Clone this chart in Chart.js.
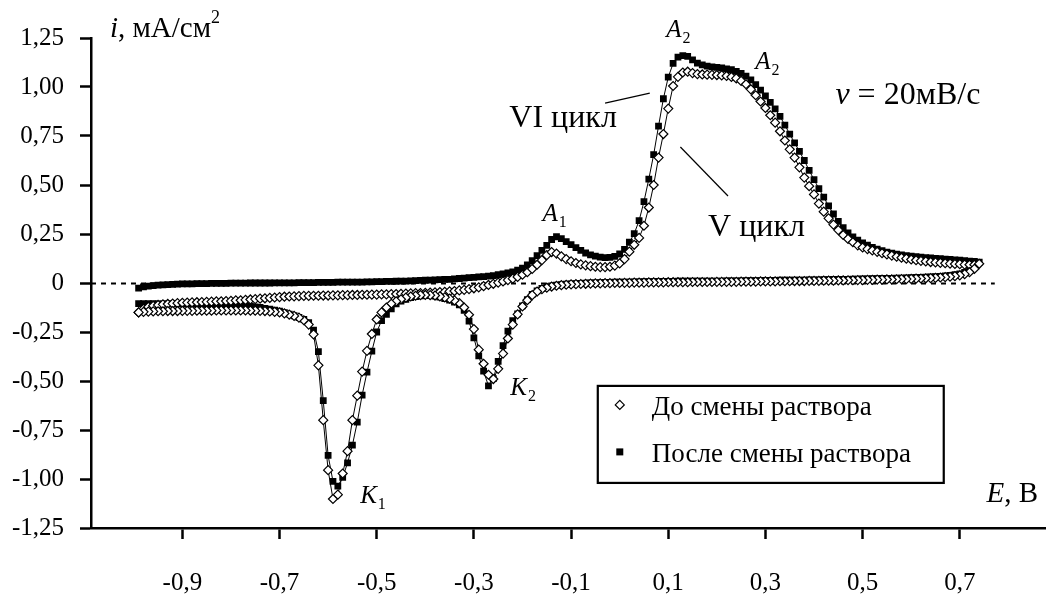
<!DOCTYPE html>
<html lang="ru">
<head>
<meta charset="utf-8">
<title>Циклические вольтамперограммы</title>
<script src="https://cdn.jsdelivr.net/npm/chart.js@4.4.1/dist/chart.umd.min.js"></script>
<style>
  html, body { margin: 0; padding: 0; background: #fff; }
  #wrap { width: 1051px; height: 594px; }
</style>
</head>
<body>
<div id="wrap"><canvas id="cv" width="1051" height="594"></canvas></div>
<script>
// Potential sweep, V (anodic run, then cathodic run back to the start)
const scanForward = [
  -0.99,-0.98,-0.97,-0.96,-0.95,-0.94,-0.93,-0.92,-0.91,-0.90,
  -0.89,-0.88,-0.87,-0.86,-0.85,-0.84,-0.83,-0.82,-0.81,-0.80,
  -0.79,-0.78,-0.77,-0.76,-0.75,-0.74,-0.73,-0.72,-0.71,-0.70,
  -0.69,-0.68,-0.67,-0.66,-0.65,-0.64,-0.63,-0.62,-0.61,-0.60,
  -0.59,-0.58,-0.57,-0.56,-0.55,-0.54,-0.53,-0.52,-0.51,-0.50,
  -0.49,-0.48,-0.47,-0.46,-0.45,-0.44,-0.43,-0.42,-0.41,-0.40,
  -0.39,-0.38,-0.37,-0.36,-0.35,-0.34,-0.33,-0.32,-0.31,-0.30,
  -0.29,-0.28,-0.27,-0.26,-0.25,-0.24,-0.23,-0.22,-0.21,-0.20,
  -0.19,-0.18,-0.17,-0.16,-0.15,-0.14,-0.13,-0.12,-0.11,-0.10,
  -0.09,-0.08,-0.07,-0.06,-0.05,-0.04,-0.03,-0.02,-0.01,0.00,
  0.01,0.02,0.03,0.04,0.05,0.06,0.07,0.08,0.09,0.10,
  0.11,0.12,0.13,0.14,0.15,0.16,0.17,0.18,0.19,0.20,
  0.21,0.22,0.23,0.24,0.25,0.26,0.27,0.28,0.29,0.30,
  0.31,0.32,0.33,0.34,0.35,0.36,0.37,0.38,0.39,0.40,
  0.41,0.42,0.43,0.44,0.45,0.46,0.47,0.48,0.49,0.50,
  0.51,0.52,0.53,0.54,0.55,0.56,0.57,0.58,0.59,0.60,
  0.61,0.62,0.63,0.64,0.65,0.66,0.67,0.68,0.69,0.70,
  0.71,0.72,0.73,0.74
];
const scanReverse = [
  0.73,0.72,0.71,0.70,0.69,0.68,0.67,0.66,0.65,0.64,
  0.63,0.62,0.61,0.60,0.59,0.58,0.57,0.56,0.55,0.54,
  0.53,0.52,0.51,0.50,0.49,0.48,0.47,0.46,0.45,0.44,
  0.43,0.42,0.41,0.40,0.39,0.38,0.37,0.36,0.35,0.34,
  0.33,0.32,0.31,0.30,0.29,0.28,0.27,0.26,0.25,0.24,
  0.23,0.22,0.21,0.20,0.19,0.18,0.17,0.16,0.15,0.14,
  0.13,0.12,0.11,0.10,0.09,0.08,0.07,0.06,0.05,0.04,
  0.03,0.02,0.01,0.00,-0.01,-0.02,-0.03,-0.04,-0.05,-0.06,
  -0.07,-0.08,-0.09,-0.10,-0.11,-0.12,-0.13,-0.14,-0.15,-0.16,
  -0.17,-0.18,-0.19,-0.20,-0.21,-0.22,-0.23,-0.24,-0.25,-0.26,
  -0.27,-0.28,-0.29,-0.30,-0.31,-0.32,-0.33,-0.34,-0.35,-0.36,
  -0.37,-0.38,-0.39,-0.40,-0.41,-0.42,-0.43,-0.44,-0.45,-0.46,
  -0.47,-0.48,-0.49,-0.50,-0.51,-0.52,-0.53,-0.54,-0.55,-0.56,
  -0.57,-0.58,-0.59,-0.60,-0.61,-0.62,-0.63,-0.64,-0.65,-0.66,
  -0.67,-0.68,-0.69,-0.70,-0.71,-0.72,-0.73,-0.74,-0.75,-0.76,
  -0.77,-0.78,-0.79,-0.80,-0.81,-0.82,-0.83,-0.84,-0.85,-0.86,
  -0.87,-0.88,-0.89,-0.90,-0.91,-0.92,-0.93,-0.94,-0.95,-0.96,
  -0.97,-0.98,-0.99
];

// Current density, mA/cm², before the electrolyte was replaced (cycle V)
const beforeForward = [
  -0.150,-0.132,-0.122,-0.116,-0.112,-0.109,-0.107,-0.105,-0.103,-0.101,
  -0.100,-0.099,-0.098,-0.097,-0.096,-0.095,-0.094,-0.093,-0.092,-0.091,
  -0.089,-0.088,-0.086,-0.084,-0.082,-0.080,-0.078,-0.076,-0.074,-0.072,
  -0.070,-0.069,-0.068,-0.067,-0.066,-0.066,-0.065,-0.065,-0.064,-0.064,
  -0.063,-0.063,-0.062,-0.062,-0.061,-0.061,-0.060,-0.060,-0.059,-0.059,
  -0.058,-0.058,-0.057,-0.056,-0.055,-0.054,-0.053,-0.052,-0.051,-0.050,
  -0.049,-0.048,-0.046,-0.045,-0.043,-0.041,-0.038,-0.035,-0.031,-0.027,
  -0.022,-0.016,-0.010,-0.004,0.002,0.008,0.015,0.022,0.031,0.042,
  0.055,0.072,0.093,0.117,0.142,0.158,0.150,0.136,0.122,0.111,
  0.102,0.095,0.090,0.086,0.083,0.081,0.081,0.083,0.089,0.100,
  0.122,0.160,0.195,0.230,0.292,0.385,0.500,0.640,0.760,0.890,
  1.005,1.052,1.074,1.078,1.071,1.066,1.064,1.063,1.062,1.061,
  1.059,1.056,1.051,1.044,1.031,1.014,0.988,0.958,0.926,0.893,
  0.856,0.818,0.774,0.727,0.682,0.640,0.590,0.538,0.494,0.452,
  0.405,0.364,0.330,0.298,0.270,0.245,0.225,0.208,0.192,0.181,
  0.173,0.166,0.159,0.152,0.146,0.140,0.134,0.129,0.124,0.120,
  0.116,0.113,0.110,0.107,0.105,0.103,0.101,0.099,0.097,0.096,
  0.094,0.093,0.093,0.098
];
const beforeReverse = [
  0.072,0.055,0.045,0.039,0.035,0.032,0.030,0.028,0.026,0.025,
  0.024,0.023,0.022,0.021,0.020,0.020,0.019,0.018,0.018,0.017,
  0.017,0.016,0.016,0.015,0.015,0.014,0.014,0.013,0.013,0.012,
  0.012,0.012,0.011,0.011,0.011,0.010,0.010,0.010,0.009,0.009,
  0.009,0.008,0.008,0.008,0.008,0.007,0.007,0.007,0.007,0.006,
  0.006,0.006,0.006,0.006,0.005,0.005,0.005,0.005,0.005,0.004,
  0.004,0.004,0.004,0.004,0.003,0.003,0.003,0.003,0.002,0.002,
  0.002,0.001,0.001,0.000,0.000,-0.001,-0.001,-0.002,-0.002,-0.003,
  -0.004,-0.005,-0.006,-0.007,-0.009,-0.011,-0.014,-0.018,-0.024,-0.032,
  -0.044,-0.062,-0.088,-0.120,-0.160,-0.212,-0.283,-0.360,-0.438,-0.490,
  -0.468,-0.412,-0.340,-0.235,-0.162,-0.125,-0.102,-0.089,-0.080,-0.073,
  -0.068,-0.064,-0.062,-0.061,-0.062,-0.065,-0.069,-0.075,-0.083,-0.094,
  -0.106,-0.125,-0.150,-0.186,-0.260,-0.346,-0.452,-0.575,-0.700,-0.858,
  -0.972,-1.080,-1.102,-0.955,-0.700,-0.420,-0.262,-0.212,-0.190,-0.177,
  -0.168,-0.161,-0.155,-0.150,-0.147,-0.145,-0.143,-0.142,-0.141,-0.141,
  -0.140,-0.140,-0.140,-0.140,-0.140,-0.140,-0.140,-0.141,-0.141,-0.141,
  -0.141,-0.142,-0.142,-0.142,-0.143,-0.143,-0.143,-0.144,-0.144,-0.145,
  -0.146,-0.147,-0.150
];

// Current density, mA/cm², after the electrolyte was replaced (cycle VI)
const afterForward = [
  -0.026,-0.020,-0.016,-0.013,-0.011,-0.010,-0.008,-0.007,-0.006,-0.005,
  -0.004,-0.004,-0.003,-0.003,-0.003,-0.002,-0.002,-0.002,-0.002,-0.001,
  -0.001,-0.001,-0.001,0.000,0.000,0.000,0.000,0.000,0.001,0.001,
  0.001,0.001,0.001,0.002,0.002,0.002,0.002,0.003,0.003,0.003,
  0.003,0.004,0.004,0.004,0.005,0.005,0.005,0.006,0.006,0.007,
  0.007,0.008,0.008,0.009,0.010,0.010,0.011,0.012,0.013,0.014,
  0.015,0.016,0.017,0.018,0.019,0.021,0.023,0.025,0.027,0.029,
  0.031,0.033,0.035,0.038,0.042,0.046,0.051,0.057,0.065,0.076,
  0.092,0.114,0.140,0.166,0.192,0.222,0.236,0.226,0.211,0.196,
  0.181,0.166,0.153,0.144,0.137,0.132,0.130,0.131,0.136,0.148,
  0.172,0.208,0.252,0.318,0.415,0.530,0.655,0.800,0.940,1.050,
  1.120,1.152,1.160,1.156,1.138,1.122,1.113,1.107,1.103,1.100,
  1.097,1.093,1.088,1.080,1.070,1.056,1.036,1.012,0.984,0.954,
  0.922,0.888,0.850,0.806,0.760,0.715,0.672,0.625,0.575,0.527,
  0.482,0.438,0.393,0.352,0.314,0.282,0.256,0.235,0.219,0.205,
  0.193,0.182,0.173,0.165,0.158,0.152,0.147,0.143,0.140,0.137,
  0.134,0.132,0.130,0.128,0.126,0.124,0.122,0.120,0.118,0.116,
  0.114,0.112,0.110,0.107
];
const afterReverse = [
  0.085,0.066,0.054,0.047,0.042,0.039,0.036,0.034,0.032,0.031,
  0.030,0.029,0.028,0.027,0.026,0.025,0.025,0.024,0.023,0.023,
  0.022,0.022,0.021,0.021,0.020,0.020,0.019,0.019,0.018,0.018,
  0.017,0.017,0.016,0.016,0.016,0.015,0.015,0.015,0.014,0.014,
  0.014,0.013,0.013,0.013,0.012,0.012,0.012,0.012,0.011,0.011,
  0.011,0.011,0.010,0.010,0.010,0.010,0.010,0.009,0.009,0.009,
  0.009,0.009,0.008,0.008,0.008,0.008,0.007,0.007,0.007,0.006,
  0.006,0.005,0.005,0.004,0.004,0.003,0.003,0.002,0.001,0.000,
  -0.001,-0.002,-0.003,-0.004,-0.006,-0.008,-0.011,-0.015,-0.020,-0.028,
  -0.040,-0.058,-0.085,-0.117,-0.158,-0.192,-0.245,-0.320,-0.400,-0.488,
  -0.525,-0.450,-0.372,-0.280,-0.195,-0.140,-0.111,-0.097,-0.087,-0.079,
  -0.072,-0.067,-0.064,-0.063,-0.065,-0.069,-0.075,-0.083,-0.093,-0.107,
  -0.132,-0.160,-0.192,-0.250,-0.348,-0.455,-0.572,-0.710,-0.827,-0.918,
  -0.992,-1.036,-1.012,-0.880,-0.600,-0.350,-0.240,-0.202,-0.186,-0.176,
  -0.167,-0.159,-0.151,-0.144,-0.138,-0.133,-0.129,-0.125,-0.122,-0.119,
  -0.117,-0.115,-0.113,-0.112,-0.111,-0.110,-0.110,-0.109,-0.109,-0.108,
  -0.108,-0.108,-0.107,-0.107,-0.107,-0.106,-0.106,-0.106,-0.106,-0.105,
  -0.105,-0.105,-0.105
];

// Axis ticks
const xTickValues = [-0.9, -0.7, -0.5, -0.3, -0.1, 0.1, 0.3, 0.5, 0.7];
const xTickLabels = ['-0,9', '-0,7', '-0,5', '-0,3', '-0,1', '0,1', '0,3', '0,5', '0,7'];
const yTickValues = [-1.25, -1, -0.75, -0.5, -0.25, 0, 0.25, 0.5, 0.75, 1, 1.25];
const yTickLabels = ['-1,25', '-1,00', '-0,75', '-0,50', '-0,25', '0', '0,25', '0,50', '0,75', '1,00', '1,25'];

const seriesNames = ['До смены раствора', 'После смены раствора'];

const SERIF = '"Liberation Serif", "Times New Roman", serif';

function loop(fwdI, revI) {
  const pts = [];
  const n1 = Math.min(scanForward.length, fwdI.length);
  for (let k = 0; k < n1; k++) pts.push({ x: scanForward[k], y: fwdI[k] });
  const n2 = Math.min(scanReverse.length, revI.length);
  for (let k = 0; k < n2; k++) pts.push({ x: scanReverse[k], y: revI[k] });
  return pts;
}

// Text annotations placed in data coordinates (left edge, baseline)
const notes = [
  { e: -1.049, i: 1.255, size: 29, parts: [{ t: 'i', it: true }, { t: ', мА/см' }, { t: '2', sup: true }] },
  { e: 0.755, i: -1.117, size: 29, parts: [{ t: 'E', it: true }, { t: ', В' }] },
  { e: 0.096, i: 1.255, size: 25, parts: [{ t: 'A', it: true }, { t: '2', sub: true }] },
  { e: 0.279, i: 1.092, size: 25, parts: [{ t: 'A', it: true }, { t: '2', sub: true }] },
  { e: -0.159, i: 0.316, size: 25, parts: [{ t: 'A', it: true }, { t: '1', sub: true }] },
  { e: -0.534, i: -1.122, size: 25, parts: [{ t: 'K', it: true }, { t: '1', sub: true }] },
  { e: -0.225, i: -0.571, size: 25, parts: [{ t: 'K', it: true }, { t: '2', sub: true }] },
  { e: -0.227, i: 0.796, size: 32, parts: [{ t: 'VI цикл' }] },
  { e: 0.182, i: 0.240, size: 32, parts: [{ t: 'V цикл' }] },
  { e: 0.444, i: 0.913, size: 32, parts: [{ t: 'v', it: true }, { t: ' = 20мВ/с' }] }
];
// Leader lines from the cycle captions to the curves
const leaders = [
  [-0.030, 0.918, 0.062, 0.969],
  [0.125, 0.694, 0.223, 0.444]
];
const zeroLineEnd = 0.772;
const legendBox = { e0: -0.045, i0: -0.525, e1: 0.667, i1: -1.020 };

function drawParts(ctx, x, y, parts, size) {
  let cx = x;
  for (const p of parts) {
    const small = p.sub || p.sup;
    const s = small ? Math.round(size * 0.62) : size;
    ctx.font = (p.it ? 'italic ' : '') + s + 'px ' + SERIF;
    const dy = p.sub ? size * 0.25 : (p.sup ? -size * 0.5 : 0);
    ctx.fillText(p.t, cx + (p.sub ? 1 : 0), y + dy);
    cx += ctx.measureText(p.t).width;
  }
}

const decorPlugin = {
  id: 'decor',
  beforeDatasetsDraw(chart) {
    const { ctx, chartArea, scales } = chart;
    const y0 = Math.round(scales.y.getPixelForValue(0)) + 0.5;
    ctx.save();
    ctx.strokeStyle = '#000';
    ctx.lineWidth = 2;
    ctx.setLineDash([5, 5]);
    ctx.beginPath();
    ctx.moveTo(chartArea.left, y0);
    ctx.lineTo(scales.x.getPixelForValue(zeroLineEnd), y0);
    ctx.stroke();
    ctx.restore();
  },
  afterDatasetsDraw(chart) {
    const { ctx, scales } = chart;
    const px = e => scales.x.getPixelForValue(e);
    const py = i => scales.y.getPixelForValue(i);
    ctx.save();
    ctx.fillStyle = '#000';
    ctx.textBaseline = 'alphabetic';
    ctx.textAlign = 'left';
    for (const n of notes) drawParts(ctx, px(n.e), py(n.i), n.parts, n.size);

    ctx.strokeStyle = '#000';
    ctx.lineWidth = 1.2;
    for (const l of leaders) {
      ctx.beginPath();
      ctx.moveTo(px(l[0]), py(l[1]));
      ctx.lineTo(px(l[2]), py(l[3]));
      ctx.stroke();
    }

    // legend frame with the two marker samples
    const L = px(legendBox.e0), T = py(legendBox.i0);
    const R = px(legendBox.e1), B = py(legendBox.i1);
    ctx.fillStyle = '#fff';
    ctx.fillRect(L, T, R - L, B - T);
    ctx.lineWidth = 2.2;
    ctx.strokeRect(L, T, R - L, B - T);
    const mx = L + 22;
    const rows = [T + 19, T + 66];
    // open diamond
    ctx.fillStyle = '#fff';
    ctx.lineWidth = 1.2;
    ctx.beginPath();
    ctx.moveTo(mx - 4.5, rows[0]);
    ctx.lineTo(mx, rows[0] - 4.5);
    ctx.lineTo(mx + 4.5, rows[0]);
    ctx.lineTo(mx, rows[0] + 4.5);
    ctx.closePath();
    ctx.fill();
    ctx.stroke();
    // filled square
    ctx.fillStyle = '#000';
    ctx.fillRect(mx - 3.5, rows[1] - 3.5, 7, 7);
    ctx.font = '27px ' + SERIF;
    ctx.textBaseline = 'middle';
    ctx.fillText(chart.data.datasets[0].label, L + 54, rows[0] + 3);
    ctx.fillText(chart.data.datasets[1].label, L + 54, rows[1] + 3);
    ctx.restore();
  }
};

const axisFont = { family: SERIF, size: 25 };

new Chart(document.getElementById('cv'), {
  type: 'scatter',
  data: {
    datasets: [
      {
        label: seriesNames[0],
        data: loop(beforeForward, beforeReverse),
        showLine: true,
        borderColor: '#000',
        borderWidth: 1,
        pointStyle: 'rectRot',
        pointRadius: 4.5,
        pointBackgroundColor: '#fff',
        pointBorderColor: '#000',
        pointBorderWidth: 1.2
      },
      {
        label: seriesNames[1],
        data: loop(afterForward, afterReverse),
        showLine: true,
        borderColor: '#000',
        borderWidth: 1,
        pointStyle: 'rect',
        pointRadius: 4.8,
        pointBackgroundColor: '#000',
        pointBorderColor: '#000',
        pointBorderWidth: 0
      }
    ]
  },
  options: {
    responsive: false,
    animation: false,
    events: [],
    layout: { padding: { top: 38, right: 0, bottom: 0, left: 0 } },
    plugins: { legend: { display: false }, tooltip: { enabled: false } },
    scales: {
      x: {
        type: 'linear',
        min: -1.088,
        max: 0.876,
        afterBuildTicks(scale) { scale.ticks = xTickValues.map(v => ({ value: v })); },
        afterFit(scale) { scale.height = 66; },
        ticks: {
          autoSkip: false,
          maxRotation: 0,
          color: '#000',
          font: axisFont,
          padding: 29,
          callback(value) {
            const k = xTickValues.findIndex(v => Math.abs(v - value) < 1e-9);
            return k >= 0 ? xTickLabels[k] : '';
          }
        },
        grid: { drawOnChartArea: false, drawTicks: true, tickLength: 11, tickWidth: 2.5, tickColor: '#000' },
        border: { display: true, color: '#000', width: 2.5 }
      },
      y: {
        type: 'linear',
        min: -1.25,
        max: 1.25,
        afterBuildTicks(scale) { scale.ticks = yTickValues.map(v => ({ value: v })); },
        afterFit(scale) { scale.width = 91; },
        ticks: {
          autoSkip: false,
          color: '#000',
          font: axisFont,
          padding: 16,
          callback(value) {
            const k = yTickValues.findIndex(v => Math.abs(v - value) < 1e-9);
            return k >= 0 ? yTickLabels[k] : '';
          }
        },
        grid: { drawOnChartArea: false, drawTicks: true, tickLength: 11, tickWidth: 2.5, tickColor: '#000' },
        border: { display: true, color: '#000', width: 2.5 }
      }
    }
  },
  plugins: [decorPlugin]
});
</script>
</body>
</html>
